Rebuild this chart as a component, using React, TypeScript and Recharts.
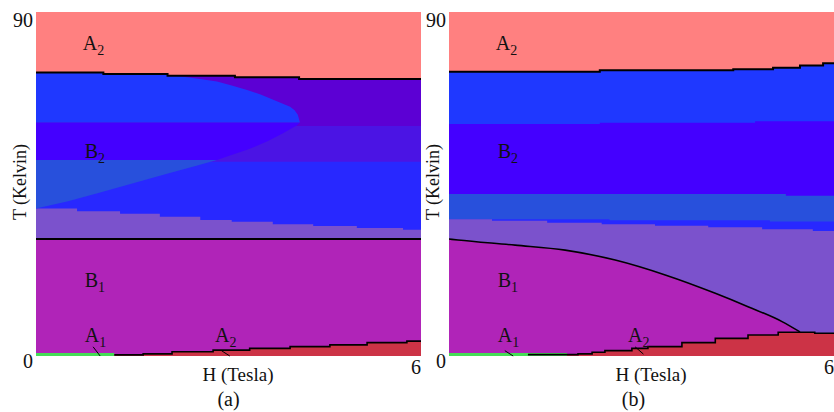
import { ComposedChart, Area, Line, XAxis, YAxis, ReferenceDot, ReferenceLine } from "recharts"

const SERIF = '"Liberation Serif", "Times New Roman", Times, serif'
const serif = { fontFamily: SERIF }

// H runs 0..6 Tesla, T runs 0..90 Kelvin
const H_FULL = [0, 6]

// ---- panel (a) ----
const aTopH = [0, 1.05, 2.05, 3.1, 4.1, 6]
const aTopT = [74.2, 73.8, 73.35, 72.9, 72.5, 72.5]
const aUpperT = [90, 90]
const aMidT = [60.2, 60.2]
const aLowT = [50.8, 50.8]
const aLavH = [0, 0.64, 1.31, 1.93, 2.56, 3.05, 3.69, 4.32, 5.0, 5.72, 6]
const aLavT = [38.6, 37.9, 37.2, 36.4, 35.6, 35.1, 34.5, 34.0, 33.5, 33.0, 33.0]
const aB1T = [30.6, 30.6]
const aRedH = [1.22, 1.67, 2.12, 2.76, 3.33, 3.96, 4.58, 5.16, 5.78, 6]
const aRedT = [0.3, 0.55, 1.1, 1.55, 2.0, 2.45, 2.9, 3.5, 3.9, 3.9]
const aGreenH = [0, 1.22]
const aGreenT = [0.8, 0.8]
// lens on the left of (a), one slice per band
const lens1H = [0, 0.5, 1.0, 1.5, 2.0, 2.5, 2.82]
const lens1Lo = [38.6, 40.5, 42.8, 45.1, 47.5, 49.8, 51.3]
const lens1Hi = [51.3, 51.3, 51.3, 51.3, 51.3, 51.3, 51.3]
const lens2H = [0, 2.82, 3.0, 3.3, 3.6, 3.85, 4.0, 4.07, 4.11]
const lens2Lo = [51.3, 51.3, 52.3, 54.0, 56.1, 58.3, 59.7, 60.4, 61.1]
const lens2Hi = [61.1, 61.1, 61.1, 61.1, 61.1, 61.1, 61.1, 61.1, 61.1]
const lens3H = [0, 2.09, 2.5, 2.82, 3.05, 3.29, 3.5, 3.65, 3.8, 3.96, 4.03, 4.08, 4.11]
const lens3Lo = [61.1, 61.1, 61.1, 61.1, 61.1, 61.1, 61.1, 61.1, 61.1, 61.1, 61.1, 61.1, 61.1]
const lens3Hi = [76, 73.5, 72.6, 71.8, 70.8, 69.6, 68.4, 67.4, 66.3, 65.2, 64.3, 63.1, 61.3]

// ---- panel (b) ----
const bTopH = [0, 2.35, 4.43, 5.05, 5.47, 5.83, 6]
const bTopT = [74.4, 74.75, 75.0, 75.4, 76.0, 76.6, 76.6]
const bUpperT = [90, 90]
const b1H = [0, 2.35, 4.77, 6]
const b1T = [60.7, 61.0, 61.4, 61.4]
const b2H = [0, 5.25, 6]
const b2T = [42.4, 41.9, 41.9]
const b3H = [0, 2.5, 5.0, 6]
const b3T = [35.8, 35.5, 35.2, 35.2]
const bLavH = [0, 0.67, 1.53, 2.38, 3.21, 4.04, 4.88, 5.67, 6]
const bLavT = [35.77, 35.4, 34.88, 34.46, 34.1, 33.68, 33.16, 32.7, 32.7]
const bB1H = [0, 0.14, 1.03, 1.81, 2.59, 3.37, 4.15, 4.66, 5.19, 5.47]
const bB1T = [30.6, 30.35, 29.0, 27.7, 25.1, 21.2, 16.4, 12.9, 9.0, 6.3]
const bRedH = [1.23, 1.84, 2.01, 2.23, 2.43, 2.85, 3.1, 3.63, 4.15, 4.66, 5.13, 5.7, 6]
const bRedT = [0.35, 0.35, 0.55, 1.0, 1.4, 2.0, 2.45, 3.5, 4.6, 5.5, 6.2, 5.95, 5.95]
const bGreenH = [0, 1.84]
const bGreenT = [0.8, 0.8]

const rows = (h: number[], t: number[]) => h.map((x, i) => ({ h: x, t: t[i] }))
const ranges = (h: number[], lo: number[], hi: number[]) => h.map((x, i) => ({ h: x, t: [lo[i], hi[i]] }))

const area = (key: string, data: any[], fill: string, type: any = "linear") => (
    <Area
        key={key}
        data={data}
        dataKey="t"
        type={type}
        stroke="none"
        fill={fill}
        fillOpacity={1}
        isAnimationActive={false}
        activeDot={false}
    />
)

const edge = (key: string, data: any[], type: any = "stepAfter", width = 1.6) => (
    <Line
        key={key}
        data={data}
        dataKey="t"
        type={type}
        stroke="#000"
        strokeWidth={width}
        dot={false}
        activeDot={false}
        isAnimationActive={false}
    />
)

const yTick = (props: any) => {
    const { y, payload } = props
    const dy = payload.value === 90 ? 15 : 12
    return (
        <text x={33} y={y + dy} textAnchor="end" style={serif} fontSize={20} fill="#111">
            {payload.value}
        </text>
    )
}

const xTick = (props: any) => {
    const { x, payload } = props
    return (
        <text x={x} y={374} textAnchor="end" style={serif} fontSize={20} fill="#111">
            {payload.value}
        </text>
    )
}

const regionLabel = (name: string, sub: string) => (props: any) => {
    const vb = props.viewBox || {}
    const x = vb.x + (vb.width || 0) / 2
    const y = vb.y + (vb.height || 0) / 2
    return (
        <text x={x} y={y} style={serif} fontSize={20} fill="#111">
            {name}
            <tspan dy={5} fontSize={14}>{sub}</tspan>
        </text>
    )
}

const labels = (prefix: string) => [
    <ReferenceDot key={prefix + "l1"} x={0.73} y={80.05} r={0} fill="none" stroke="none" label={regionLabel("A", "2")} />,
    <ReferenceDot key={prefix + "l2"} x={0.76} y={51.8} r={0} fill="none" stroke="none" label={regionLabel("B", "2")} />,
    <ReferenceDot key={prefix + "l3"} x={0.76} y={18.05} r={0} fill="none" stroke="none" label={regionLabel("B", "1")} />,
    <ReferenceDot key={prefix + "l4"} x={0.76} y={3.66} r={0} fill="none" stroke="none" label={regionLabel("A", "1")} />,
    <ReferenceDot key={prefix + "l5"} x={2.79} y={3.66} r={0} fill="none" stroke="none" label={regionLabel("A", "2")} />,
]

function Panel({ caption, captionDx, children }: { caption: string; captionDx: number; children: any }) {
    return (
        <ComposedChart width={421} height={412} margin={{ top: 12, right: 0, bottom: 0, left: 0 }}>
            <XAxis
                type="number"
                dataKey="h"
                domain={[0, 6]}
                ticks={[6]}
                interval={0}
                allowDataOverflow
                axisLine={false}
                tickLine={false}
                height={56}
                tick={xTick}
                label={(p: any) => {
                    const vb = p.viewBox
                    const cx = vb.x + vb.width / 2
                    return (
                        <g style={serif} fill="#111">
                            <text x={cx + 9.5} y={vb.y + 25} textAnchor="middle" style={serif} fontSize={19}>H (Tesla)</text>
                            <text x={cx + captionDx} y={vb.y + 50} textAnchor="middle" style={serif} fontSize={20}>{caption}</text>
                        </g>
                    )
                }}
            />
            <YAxis
                type="number"
                domain={[0, 90]}
                ticks={[0, 90]}
                interval={0}
                allowDataOverflow
                axisLine={false}
                tickLine={false}
                width={36}
                tick={yTick}
                label={(p: any) => {
                    const vb = p.viewBox
                    const cy = vb.y + 170
                    return (
                        <text
                            x={26}
                            y={cy}
                            transform={`rotate(-90 26 ${cy})`}
                            textAnchor="middle"
                            style={serif}
                            fontSize={18}
                            fill="#111"
                        >
                            T (Kelvin)
                        </text>
                    )
                }}
            />
            {children}
        </ComposedChart>
    )
}

export default function App() {
    return (
        <div style={{ position: "absolute", left: 0, top: 0, width: 834, height: 412, background: "#fff" }}>
            <div style={{ position: "absolute", left: 0, top: 0 }}>
                <Panel caption="(a)" captionDx={0}>
                    {area("aUp", rows(H_FULL, aUpperT), "#5C00D4")}
                    {area("aMid", rows(H_FULL, aMidT), "#4B14E4")}
                    {area("aLow", rows(H_FULL, aLowT), "#2828FF")}
                    {area("aLav", rows(aLavH, aLavT), "#7B52CC", "stepAfter")}
                    {area("aB1", rows(H_FULL, aB1T), "#B024B8")}
                    {area("aRed", rows(aRedH, aRedT), "#CC3346", "stepAfter")}
                    {area("aGreen", rows(aGreenH, aGreenT), "#44DD55")}
                    {area("lens1", ranges(lens1H, lens1Lo, lens1Hi), "#2850DC")}
                    {area("lens2", ranges(lens2H, lens2Lo, lens2Hi), "#4400FF")}
                    {area("lens3", ranges(lens3H, lens3Lo, lens3Hi), "#1F38FF")}
                    {area("aSalmon", ranges(aTopH, aTopT, [90, 90, 90, 90, 90, 90]), "#FF8080", "stepAfter")}
                    {edge("aTopLine", rows(aTopH, aTopT), "stepAfter", 2)}
                    {edge("aB1Line", rows(H_FULL, aB1T), "linear", 2)}
                    {edge("aRedLine", rows(aRedH, aRedT), "stepAfter", 1.6)}
                    <ReferenceLine segment={[{ x: 0.89, y: 2.4 }, { x: 1.0, y: 0 }]} stroke="#000" strokeWidth={1} />
                    <ReferenceLine segment={[{ x: 2.89, y: 1.4 }, { x: 3.02, y: 0 }]} stroke="#000" strokeWidth={1} />
                    {labels("a")}
                </Panel>
            </div>
            <div style={{ position: "absolute", left: 413, top: 0 }}>
                <Panel caption="(b)" captionDx={-8}>
                    {area("bUp", rows(H_FULL, bUpperT), "#1F38FF")}
                    {area("b1", rows(b1H, b1T), "#4400FF", "stepAfter")}
                    {area("b2", rows(b2H, b2T), "#2850DC", "stepAfter")}
                    {area("b3", rows(b3H, b3T), "#2828FF", "stepAfter")}
                    {area("bLav", rows(bLavH, bLavT), "#7B52CC", "stepAfter")}
                    {area("bB1", rows(bB1H, bB1T), "#B024B8", "monotone")}
                    {area("bRed", rows(bRedH, bRedT), "#CC3346", "stepAfter")}
                    {area("bGreen", rows(bGreenH, bGreenT), "#44DD55")}
                    {area("bSalmon", ranges(bTopH, bTopT, [90, 90, 90, 90, 90, 90, 90]), "#FF8080", "stepAfter")}
                    {edge("bTopLine", rows(bTopH, bTopT), "stepAfter", 2)}
                    {edge("bB1Line", rows(bB1H, bB1T), "monotone", 1.6)}
                    {edge("bRedLine", rows(bRedH, bRedT), "stepAfter", 1.6)}
                    <ReferenceLine segment={[{ x: 0.87, y: 1.4 }, { x: 1.0, y: 0 }]} stroke="#000" strokeWidth={1} />
                    <ReferenceLine segment={[{ x: 2.9, y: 2.4 }, { x: 3.03, y: 0.5 }]} stroke="#000" strokeWidth={1} />
                    {labels("b")}
                </Panel>
            </div>
        </div>
    )
}
